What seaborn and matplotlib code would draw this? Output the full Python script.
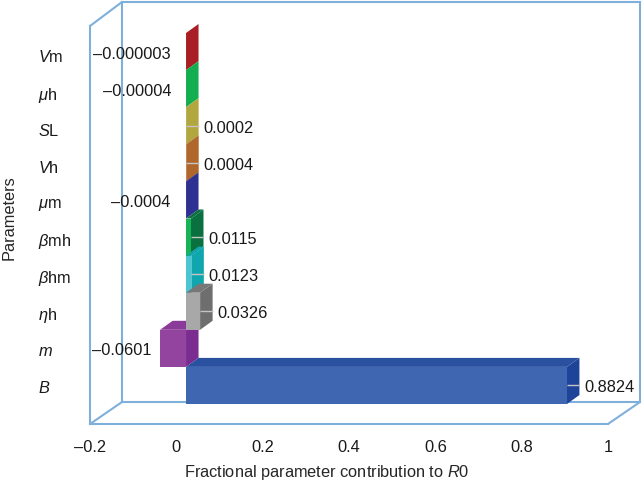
import matplotlib
matplotlib.use("Agg")
import matplotlib.pyplot as plt
from matplotlib.patches import ConnectionPatch
import pandas as pd
import seaborn as sns

parameters = [r"$\mathit{V}$m", r"$\mathit{\mu}$h", r"$\mathit{S}$L", r"$\mathit{V}$h", r"$\mathit{\mu}$m",
              r"$\mathit{\beta}$mh", r"$\mathit{\beta}$hm", r"$\mathit{\eta}$h", r"$\mathit{m}$", r"$\mathit{B}$"]
values = [-0.000003, -0.00004, 0.0002, 0.0004, -0.0004, 0.0115, 0.0123, 0.0326, -0.0601, 0.8824]
value_labels = ["–0.000003", "–0.00004", "0.0002", "0.0004", "–0.0004", "0.0115", "0.0123", "0.0326", "–0.0601", "0.8824"]
x_ticks = [-0.2, 0, 0.2, 0.4, 0.6, 0.8, 1]
x_tick_labels = ["–0.2", "0", "0.2", "0.4", "0.6", "0.8", "1"]
front_colors = ["#A81E24", "#12AE50", "#B2A63E", "#B0672C", "#2E3192", "#17B455", "#4AC6D2", "#A8A8A8", "#93449E", "#3F67B1"]
side_colors = ["#A81E24", "#12AE50", "#B2A63E", "#B0672C", "#2E3192", "#0B703F", "#0FA6AE", "#6E6E6E", "#7A2C90", "#1E449A"]
top_colors = ["#B3232A", "#12AE50", "#B2A63E", "#B0672C", "#2E3192", "#0B703F", "#0FA6AE", "#777777", "#8A3A98", "#2A50A0"]
draw_rank = [0, 1, 2, 3, 4, 5, 6, 8, 7, 9]

sns.set_theme(style="white")
plt.rcParams.update({
    "font.family": ["Liberation Sans", "DejaVu Sans"],
    "mathtext.fontset": "custom",
    "mathtext.it": "Liberation Sans:italic",
    "mathtext.rm": "Liberation Sans",
    "mathtext.default": "regular",
    "text.color": "#1a1a1a",
})
W, H = 644, 480
FS = 11.8
FRAME = "#7FB0DC"
LW = 1.5
fig = plt.figure(figsize=(W / 100, H / 100), dpi=100, facecolor="white")


def rect(x0, y0, x1, y1):
    return [x0 / W, 1 - y1 / H, (x1 - x0) / W, (y1 - y0) / H]


# back wall
ax_back = fig.add_axes(rect(122, 2, 640, 402), zorder=0)
ax_back.set_xticks([])
ax_back.set_yticks([])
for s in ax_back.spines.values():
    s.set_color(FRAME)
    s.set_linewidth(LW)

# front plane with the axis texts
ax = fig.add_axes(rect(90, 26, 608, 424), zorder=1, facecolor="none")
ax.set_xlim(-0.2, 1)
ax.set_ylim(10.03, -0.817)
ax.set_xticks(x_ticks, x_tick_labels, fontsize=FS)
ax.set_yticks(range(len(parameters)), parameters, fontsize=FS, ha="left")
ax.tick_params(axis="x", length=0, pad=11.5, labelcolor="#1a1a1a")
ax.tick_params(axis="y", length=0, pad=37.4, labelcolor="#1a1a1a")
for name, s in ax.spines.items():
    s.set_visible(name in ("left", "bottom"))
    s.set_color(FRAME)
    s.set_linewidth(LW)
ax.set_xlabel(r"Fractional parameter contribution to $\mathit{R}$0", fontsize=FS, va="center")
ax.xaxis.set_label_coords((327 - 90) / 518, -(472 - 424) / 398)
ax.set_ylabel("Parameters", fontsize=FS, va="center")
ax.yaxis.set_label_coords(-(90 - 9) / 518, (424 - 218) / 398)

for a, b in [((0, 1), (0, 1)), ((0, 0), (0, 0)), ((1, 0), (1, 0))]:
    fig.add_artist(ConnectionPatch(a, b, "axes fraction", "axes fraction", axesA=ax, axesB=ax_back,
                                   color=FRAME, lw=LW))

# bars, on a plane set into the chart depth
ax_bar = fig.add_axes(rect(99.7, 33, 617.7, 404), zorder=2, facecolor="none")
df = pd.DataFrame({"parameter": parameters, "value": values})
sns.barplot(data=df, x="value", y="parameter", hue="parameter", order=parameters, hue_order=parameters,
            palette=dict(zip(parameters, front_colors)), orient="h", width=1.0, saturation=1,
            legend=False, ax=ax_bar)
ax_bar.set_xlim(-0.2, 1)
ax_bar.set_ylim(9.5, -0.5)
ax_bar.axis("off")

DX = 12.5 / (518 / 1.2)
DY = 9 / 37.1
PX = 72 / 100

for patch in ax_bar.patches:
    if patch.get_height() == 0:
        continue
    i = int(round(patch.get_y() + patch.get_height() / 2))
    base = 3 + 3 * draw_rank[i]
    x0, w = patch.get_x(), patch.get_width()
    xl, xr = min(x0, x0 + w), max(x0, x0 + w)
    yt, yb = i - 0.5, i + 0.5
    patch.set_zorder(base + 2)
    patch.set_edgecolor("none")
    ax_bar.fill([xr, xr + DX, xr + DX, xr], [yt, yt - DY, yb - DY, yb], color=side_colors[i], lw=0,
                zorder=base, clip_on=False)
    ax_bar.fill([xl, xr, xr + DX, xl + DX], [yt, yt, yt - DY, yt - DY], color=top_colors[i], lw=0,
                zorder=base + 1, clip_on=False)
    if values[i] > 0:
        ax_bar.plot([xr, xr + DX], [i, i], color="#C4C4C4", lw=1, zorder=base + 1.5, clip_on=False,
                    solid_capstyle="butt")
        ax_bar.annotate(value_labels[i], (xr, i), xytext=(17 * PX, -2.5 * PX), textcoords="offset points",
                        ha="left", va="center", fontsize=FS, zorder=50, annotation_clip=False)
    else:
        gap = 9 if abs(values[i]) > 0.01 else 15
        ax_bar.annotate(value_labels[i], (xl, i), xytext=(-gap * PX, -2.5 * PX), textcoords="offset points",
                        ha="right", va="center", fontsize=FS, zorder=50, annotation_clip=False)

fig.savefig("out.png", dpi=100, facecolor="white")
